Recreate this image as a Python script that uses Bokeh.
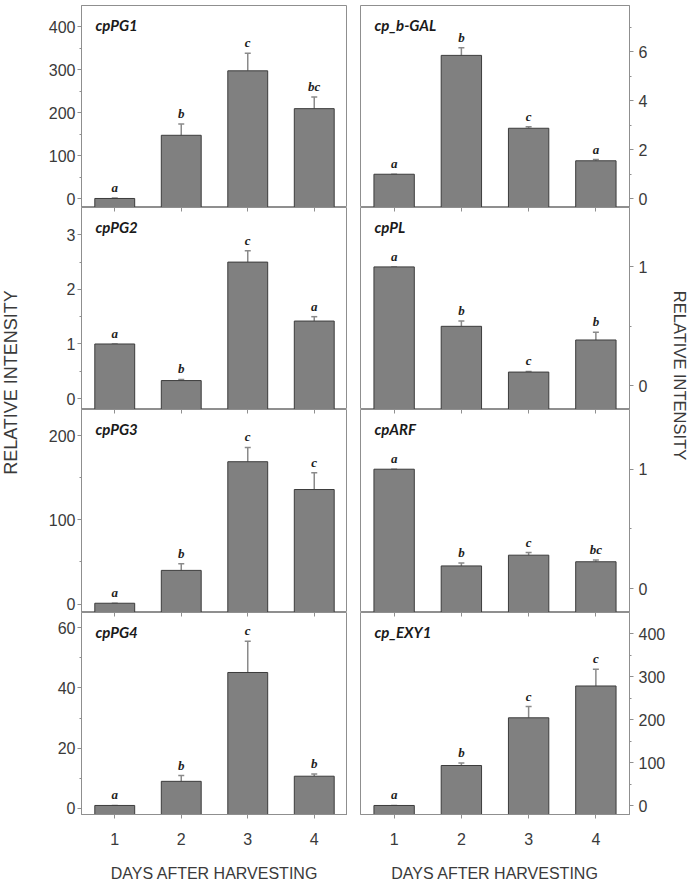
from bokeh.plotting import figure
from bokeh.models import (ColumnDataSource, Range1d, LinearAxis, FixedTicker,
                          Whisker, TeeHead, Label, LabelSet)
from bokeh.layouts import row, column
from bokeh.embed import file_html
from bokeh.resources import INLINE

# ---------------- data ----------------
days = [1, 2, 3, 4]

cpPG1_mean = [1, 148, 298, 210]
cpPG1_err = [1, 26, 41, 27]
cpPG1_letters = ["a", "b", "c", "bc"]

cpPG2_mean = [1.0, 0.33, 2.50, 1.42]
cpPG2_err = [0.0, 0.02, 0.21, 0.08]
cpPG2_letters = ["a", "b", "c", "a"]

cpPG3_mean = [1, 40, 169, 136]
cpPG3_err = [0, 8, 17, 20]
cpPG3_letters = ["a", "b", "c", "c"]

cpPG4_mean = [1.0, 9.0, 45.1, 10.7]
cpPG4_err = [0.0, 1.9, 10.4, 0.7]
cpPG4_letters = ["a", "b", "c", "b"]

bGAL_mean = [1.0, 5.86, 2.88, 1.55]
bGAL_err = [0.0, 0.31, 0.06, 0.05]
bGAL_letters = ["a", "b", "c", "a"]

cpPL_mean = [1.0, 0.50, 0.115, 0.385]
cpPL_err = [0.0, 0.045, 0.005, 0.065]
cpPL_letters = ["a", "b", "c", "b"]

cpARF_mean = [1.0, 0.19, 0.28, 0.225]
cpARF_err = [0.0, 0.025, 0.022, 0.015]
cpARF_letters = ["a", "b", "c", "bc"]

EXY1_mean = [1, 94, 205, 279]
EXY1_err = [0, 6, 26, 39]
EXY1_letters = ["a", "b", "c", "c"]

# ---------------- style ----------------
BAR = "#808080"
BAR_EDGE = "#3c3c3c"
ERR = "#8a8a8a"
FRAME = "#8f8f8f"
TICK_TXT = "#3a3a3a"
FONT = "Liberation Sans"
ITFONT = "Lato"
FHS = [202, 202, 203, 202]
TOP_BORDER = 5
BOTTOM_BORDER = 69
FW = {"left": 266, "right": 269}
LAB_W = 20


def panel(name, means, errs, letters, yr, major, minor, side, pos):
    bottom = pos == 3
    p = figure(frame_width=FW[side], frame_height=FHS[pos],
               x_range=Range1d(0.5, 4.5), y_range=Range1d(*yr),
               output_backend="svg", toolbar_location=None,
               x_axis_location=None, y_axis_location=None,
               min_border_top=TOP_BORDER if pos == 0 else 0,
               min_border_bottom=BOTTOM_BORDER if bottom else 0,
               min_border_left=61 if side == "left" else 13,
               min_border_right=0 if side == "left" else 40)
    p.outline_line_color = FRAME
    p.outline_line_width = 1
    p.grid.grid_line_color = None
    p.background_fill_color = "white"
    p.border_fill_color = "white"

    yax = LinearAxis(ticker=FixedTicker(ticks=major, minor_ticks=minor))
    yax.major_tick_out = 4
    yax.major_tick_in = 0
    yax.minor_tick_out = 2
    yax.minor_tick_in = 0
    yax.axis_line_color = FRAME
    yax.major_tick_line_color = FRAME
    yax.minor_tick_line_color = FRAME
    yax.major_label_text_font = FONT
    yax.major_label_text_font_size = "16px"
    yax.major_label_text_color = TICK_TXT
    yax.major_label_standoff = 2 if side == "left" else 5
    p.add_layout(yax, side)

    if pos > 0:
        tax = LinearAxis(ticker=FixedTicker(ticks=days, minor_ticks=[]))
        tax.major_tick_in = 4
        tax.major_tick_out = 0
        tax.minor_tick_in = 0
        tax.minor_tick_out = 0
        tax.major_label_overrides = {d: "" for d in days}
        tax.major_label_text_font_size = "0px"
        tax.major_label_standoff = 0
        tax.axis_line_color = None
        tax.major_tick_line_color = FRAME
        p.add_layout(tax, "above")

    if bottom:
        xax = LinearAxis(ticker=FixedTicker(ticks=days, minor_ticks=[]),
                         axis_label="DAYS AFTER HARVESTING")
        xax.major_tick_out = 4
        xax.major_tick_in = 0
        xax.minor_tick_in = 0
        xax.minor_tick_out = 0
        xax.axis_line_color = FRAME
        xax.major_tick_line_color = FRAME
        xax.major_label_text_font = FONT
        xax.major_label_text_font_size = "16px"
        xax.major_label_text_color = TICK_TXT
        xax.major_label_standoff = 14
        xax.axis_label_text_font = FONT
        xax.axis_label_text_font_size = "16px"
        xax.axis_label_text_font_style = "normal"
        xax.axis_label_text_color = TICK_TXT
        xax.axis_label_standoff = 17
        p.add_layout(xax, "below")

    upper = [m + e for m, e in zip(means, errs)]
    src = ColumnDataSource(dict(x=days, top=means, upper=upper, letter=letters))
    p.vbar(x="x", top="top", bottom=yr[0], width=0.6, fill_color=BAR,
           line_color=BAR_EDGE, line_width=1, source=src)
    p.add_layout(Whisker(base="x", lower="top", upper="upper", source=src,
                         line_color=ERR, line_width=1.5, lower_head=None,
                         upper_head=TeeHead(size=6, line_color=ERR, line_width=1.5)))
    p.add_layout(LabelSet(x="x", y="upper", text="letter", source=src,
                          y_offset=6, text_align="center", text_baseline="alphabetic",
                          text_font=ITFONT, text_font_style="bold italic",
                          text_font_size="13px", text_color="#1e1e1e"))
    p.add_layout(Label(x=0.5, y=yr[1], x_offset=14, y_offset=-19, text=name,
                       text_baseline="middle", text_align="left",
                       text_font=ITFONT, text_font_style="bold italic",
                       text_font_size="15px", text_color="#1a1a1a"))
    return p


left_panels = [
    panel("cpPG1", cpPG1_mean, cpPG1_err, cpPG1_letters, (-20, 450),
          [0, 100, 200, 300, 400], [50, 150, 250, 350], "left", 0),
    panel("cpPG2", cpPG2_mean, cpPG2_err, cpPG2_letters, (-0.2, 3.5),
          [0, 1, 2, 3], [0.5, 1.5, 2.5], "left", 1),
    panel("cpPG3", cpPG3_mean, cpPG3_err, cpPG3_letters, (-10, 231),
          [0, 100, 200], [50, 150], "left", 2),
    panel("cpPG4", cpPG4_mean, cpPG4_err, cpPG4_letters, (-2, 65),
          [0, 20, 40, 60], [10, 30, 50], "left", 3),
]
right_panels = [
    panel("cp_b-GAL", bGAL_mean, bGAL_err, bGAL_letters, (-0.36, 7.9),
          [0, 2, 4, 6], [1, 3, 5, 7], "right", 0),
    panel("cpPL", cpPL_mean, cpPL_err, cpPL_letters, (-0.2, 1.5),
          [0, 1], [0.5], "right", 1),
    panel("cpARF", cpARF_mean, cpARF_err, cpARF_letters, (-0.2, 1.5),
          [0, 1], [0.5], "right", 2),
    panel("cp_EXY1", EXY1_mean, EXY1_err, EXY1_letters, (-20, 450),
          [0, 100, 200, 300, 400], [50, 150, 250, 350], "right", 3),
]

TOTAL_H = TOP_BORDER + sum(FHS) + BOTTOM_BORDER


def side_label(width, ycenter, angle, size):
    f = figure(width=width, height=TOTAL_H, x_range=Range1d(0, width),
               y_range=Range1d(0, TOTAL_H), output_backend="svg",
               toolbar_location=None, x_axis_location=None, y_axis_location=None,
               min_border=0)
    f.outline_line_color = None
    f.grid.grid_line_color = None
    f.add_layout(Label(x=width / 2, y=TOTAL_H - ycenter, text="RELATIVE INTENSITY",
                       angle=angle, angle_units="deg", text_align="center",
                       text_baseline="middle", text_font=FONT,
                       text_font_size=size, text_color=TICK_TXT))
    return f


lab_left = side_label(LAB_W, 382, 90, "18px")
lab_right = side_label(LAB_W, 375, -90, "16.5px")

layout = row(lab_left, column(*left_panels), column(*right_panels), lab_right)

open("out.html", "w").write(file_html(layout, INLINE))
